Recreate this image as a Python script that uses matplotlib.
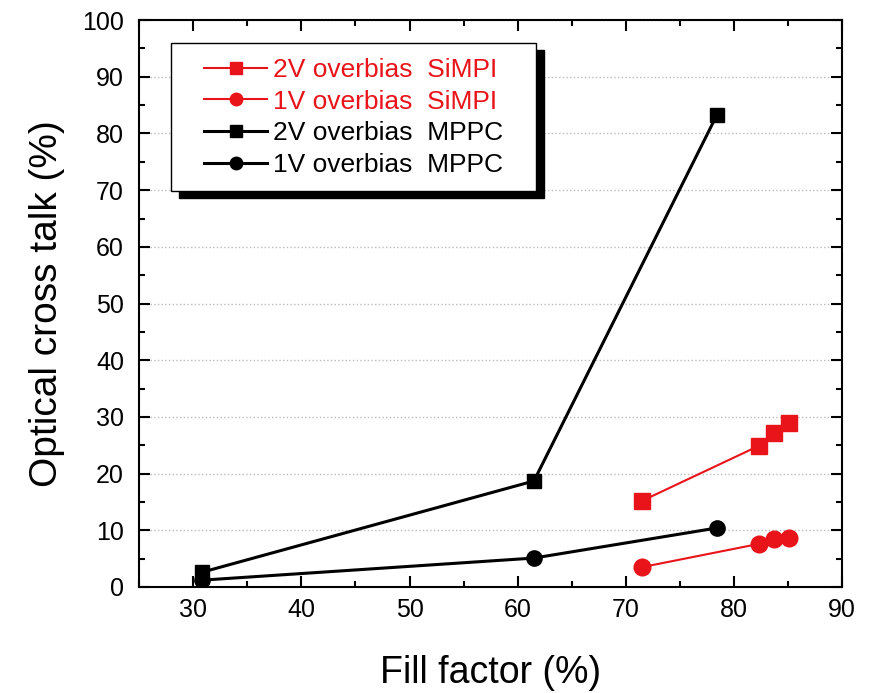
import matplotlib
matplotlib.use("Agg")
import matplotlib.pyplot as plt
from matplotlib.ticker import MultipleLocator
from matplotlib.path import Path

plt.rcParams['font.family'] = ['Liberation Sans', 'DejaVu Sans']

mppc_x = [30.8, 61.5, 78.4]
mppc_2v = [2.6, 18.7, 83.2]
mppc_1v = [1.2, 5.1, 10.4]
simpi_x = [71.5, 82.3, 83.7, 85.1]
simpi_2v = [15.2, 24.9, 27.1, 29.0]
simpi_1v = [3.5, 7.6, 8.4, 8.6]

fig = plt.figure(figsize=(8.7, 6.93), dpi=100)
ax = fig.add_axes([0.160, 0.153, 0.808, 0.818])

red = '#e8141a'
ax.plot(simpi_x, simpi_2v, '-s', color=red, lw=1.5, ms=11, label='2V overbias  SiMPI', zorder=3)
ax.plot(simpi_x, simpi_1v, '-o', color=red, lw=1.5, ms=12, label='1V overbias  SiMPI', zorder=3)
ax.plot(mppc_x, mppc_2v, '-s', color='black', lw=2.2, ms=10, label='2V overbias  MPPC', zorder=3)
ax.plot(mppc_x, mppc_1v, '-o', color='black', lw=2.2, ms=11, label='1V overbias  MPPC', zorder=3)

ax.set_xlim(25, 90)
ax.set_ylim(0, 100)
ax.xaxis.set_major_locator(MultipleLocator(10))
ax.xaxis.set_minor_locator(MultipleLocator(5))
ax.yaxis.set_major_locator(MultipleLocator(10))
ax.yaxis.set_minor_locator(MultipleLocator(5))
ax.tick_params(which='both', direction='in', top=True, right=True, width=1.5)
ax.tick_params(which='major', length=8, labelsize=18)
ax.tick_params(which='minor', length=4)
ax.tick_params(axis='x', which='major', pad=8)
ax.tick_params(axis='y', which='major', pad=11)
for s in ax.spines.values():
    s.set_linewidth(1.5)
ax.yaxis.grid(True, which='major', linestyle=':', color='#bbbbbb', lw=1)
ax.set_axisbelow(True)

ax.set_xlabel('Fill factor (%)', fontsize=27)
ax.set_ylabel('Optical cross talk (%)', fontsize=28)
ax.xaxis.set_label_coords(0.5, -0.12)
ax.yaxis.set_label_coords(-0.106, 0.5)


def wide_box(x0, y0, width, height, mutation_size):
    e = 0.7 * mutation_size
    return Path([(x0 - e, y0), (x0 + width + e, y0), (x0 + width + e, y0 + height),
                 (x0 - e, y0 + height), (x0 - e, y0)], closed=True)


leg = ax.legend(loc='upper left', bbox_to_anchor=(0.0714, 0.959), borderaxespad=0,
                fontsize=19, frameon=True, fancybox=False, framealpha=1,
                edgecolor='black', handlelength=2.4, handletextpad=0.2,
                labelspacing=0.29, borderpad=0.55,
                shadow={'ox': 6, 'oy': -5, 'color': 'black', 'alpha': 1})
leg.legendPatch.set_boxstyle(wide_box)
leg.get_frame().set_linewidth(1.0)
for t, c in zip(leg.get_texts(), [red, red, 'black', 'black']):
    t.set_color(c)
for h in leg.legend_handles:
    h.set_markersize(9)

fig.savefig('out.png', dpi=100)
